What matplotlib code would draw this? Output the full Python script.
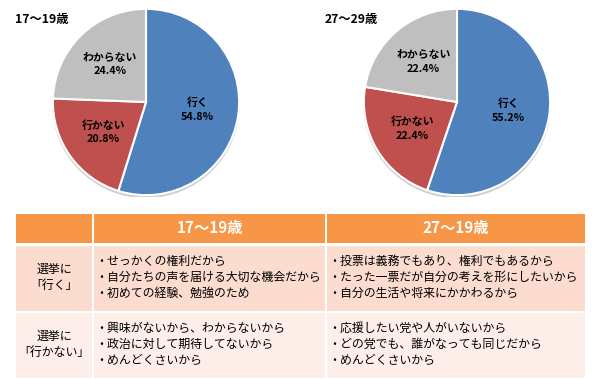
import matplotlib
matplotlib.use("Agg")
import matplotlib.pyplot as plt
from matplotlib.patches import Rectangle, Circle

plt.rcParams['font.family'] = ['Noto Sans CJK JP', 'DejaVu Sans']

# pie data
answer_labels = ["行く", "行かない", "わからない"]
teen_values = [54.8, 20.8, 24.4]
twenties_values = [55.2, 22.4, 22.4]
pie_titles = ["17～19歳", "27～29歳"]
pie_colors = ["#4F81BD", "#C0504D", "#BFBFBF"]

# table data
table_headers = ["17～19歳", "27～19歳"]
row_labels = ["選挙に\n「行く」", "選挙に\n「行かない」"]
teen_reasons = [
    ["・せっかくの権利だから", "・自分たちの声を届ける大切な機会だから", "・初めての経験、勉強のため"],
    ["・興味がないから、わからないから", "・政治に対して期待してないから", "・めんどくさいから"],
]
twenties_reasons = [
    ["・投票は義務でもあり、権利でもあるから", "・たった一票だが自分の考えを形にしたいから", "・自分の生活や将来にかかわるから"],
    ["・応援したい党や人がいないから", "・どの党でも、誰がなっても同じだから", "・めんどくさいから"],
]

W, H = 600, 379
fig = plt.figure(figsize=(W / 100, H / 100), dpi=100)


def draw_pie(cx, cy, r, values, title, title_x):
    ax = fig.add_axes([(cx - r) / W, (H - cy - r) / H, 2 * r / W, 2 * r / H])
    # faint drop shadow under the pie
    ax.add_patch(Circle((0.0, -0.025), 1.0, color="#CFCFCF", zorder=0))
    wedges, texts = ax.pie(values, colors=pie_colors, startangle=90, counterclock=False,
                           labels=[f"{l}\n{v:.1f}%" for l, v in zip(answer_labels, values)],
                           labeldistance=0.56, radius=1.0,
                           wedgeprops=dict(edgecolor="white", linewidth=1.5),
                           textprops=dict(fontsize=7.8, fontweight="bold", color="black",
                                          linespacing=1.45))
    for t in texts:
        t.set_horizontalalignment("center")
        t.set_verticalalignment("center")
    ax.set_xlim(-1.02, 1.02)
    ax.set_ylim(-1.02, 1.02)
    ax.set_aspect("auto")
    ax.axis("off")
    fig.text(title_x / W, 1 - 19 / H, title, fontsize=8.8, fontweight="bold",
             ha="left", va="center")


draw_pie(146, 102, 95, teen_values, pie_titles[0], 15)
draw_pie(457, 102, 95, twenties_values, pie_titles[1], 325)

# table
tab = fig.add_axes([0, 0, 1, 1])
tab.set_xlim(0, W)
tab.set_ylim(H, 0)
tab.axis("off")

col_edges = [(16, 92), (94, 325), (327, 585)]
row_edges = [(214, 243), (246, 311), (313, 378)]
row_colors = ["#F79646", "#FBDCCF", "#FDEEE9"]

for (y0, y1), c in zip(row_edges, row_colors):
    for x0, x1 in col_edges:
        tab.add_patch(Rectangle((x0, y0), x1 - x0, y1 - y0, color=c, lw=0))

hy = sum(row_edges[0]) / 2
for (x0, x1), txt in zip(col_edges[1:], table_headers):
    tab.text((x0 + x1) / 2, hy, txt, color="white", fontsize=11, fontweight="bold",
             ha="center", va="center")

for i, lab in enumerate(row_labels):
    y0, y1 = row_edges[i + 1]
    tab.text(sum(col_edges[0]) / 2, (y0 + y1) / 2 - 1, lab, fontsize=8.6,
             ha="center", va="center", linespacing=1.3)
    for (x0, x1), reasons in zip(col_edges[1:], [teen_reasons[i], twenties_reasons[i]]):
        tab.text(x0 + 1, (y0 + y1) / 2 - 1, "\n".join(reasons), fontsize=8.6,
                 ha="left", va="center", linespacing=1.3)

fig.savefig("out.png", dpi=100)
